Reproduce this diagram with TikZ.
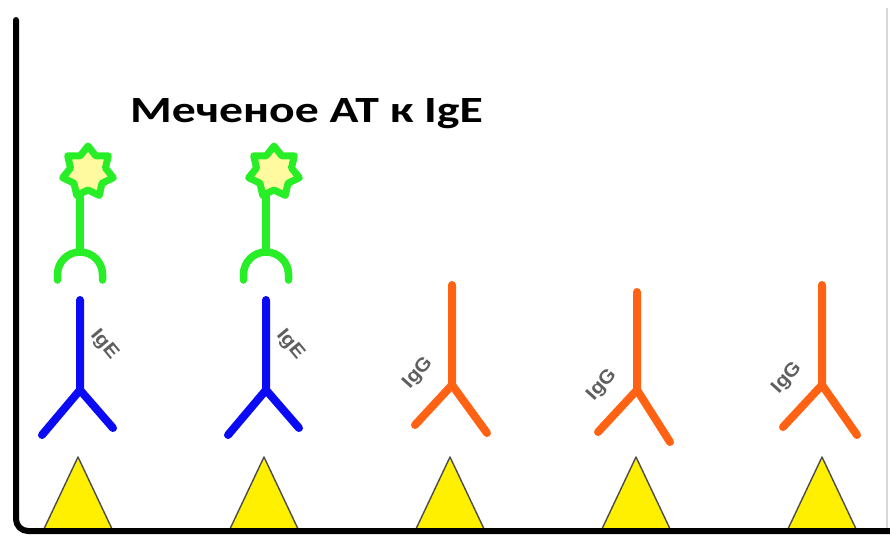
\documentclass[tikz,border=0pt]{standalone}
\usepackage{fontspec}
\usetikzlibrary{shapes.geometric}
\newfontfamily\titlefont{Carlito}
\newfontfamily\labelfont{Liberation Sans}
\definecolor{abgreen}{RGB}{40,238,40}
\definecolor{starfill}{RGB}{255,250,160}
\definecolor{igeblue}{RGB}{10,10,245}
\definecolor{iggorange}{RGB}{255,98,18}
\definecolor{labelgray}{RGB}{95,95,95}
\definecolor{antigen}{RGB}{255,240,0}
\tikzset{
  wall/.style={line width=6pt, line cap=round, line join=round, black},
  antigenbox/.style={fill=antigen, draw=black!70, line width=1.4pt, line join=round},
  igestroke/.style={igeblue, line width=8pt, line cap=round, line join=round},
  iggstroke/.style={iggorange, line width=8pt, line cap=round, line join=round},
  labeledab/.style={abgreen, line width=7.5pt, line cap=round, line join=round},
  tagstar/.style={star, star points=7, star point ratio=1.45, minimum size=52pt,
    inner sep=0pt, draw=abgreen, line width=7pt, fill=starfill, line join=round},
  ablabel/.style={font=\labelfont\bfseries\fontsize{19}{19}\selectfont, text=labelgray, inner sep=0pt},
}
\begin{document}
\begin{tikzpicture}[x=1pt, y=-1pt]
\useasboundingbox (0,0) rectangle (890,538);
\fill[white] (0,0) rectangle (890,538);

% faint right edge of the well
\draw[black!15, line width=1.2pt] (887,8) -- (887,528);

% antigen triangles on the surface
\foreach \cx [count=\i] in {78,264,450,636,822}
  \draw[antigenbox] (\cx-35,531) -- (\cx,457) -- (\cx+35,531) -- cycle;

% well wall and bottom (y axis points down, so angles run clockwise)
\coordinate (walltop) at (16,20);
\coordinate (wallend) at (890,531);
\draw[wall] (walltop) -- (16,519) arc[start angle=180, end angle=90, radius=12] -- (wallend);

% IgE antibodies (blue) with labelled anti-IgE antibodies (green)
\foreach \cx [count=\i] in {80,266}{
  \draw[igestroke] (\cx,300) -- (\cx,390) -- (\cx-38,435);
  \draw[igestroke] (\cx,390) -- (\cx+33,428);
  \node[ablabel, rotate=-50] (ige\i) at (\cx+24,345) {\scalebox{1.1}[1]{IgE}};
  \draw[labeledab] (\cx,190) -- (\cx,252);
  \node[tagstar] (tag\i) at (\cx+8,172) {};
  \draw[labeledab] (\cx-22.5,280) -- (\cx-22.5,274.5)
     arc[start angle=180, end angle=360, radius=22.5] -- (\cx+22.5,280);
}

% IgG antibodies (orange)
\draw[iggstroke] (452,285) -- (452,385) -- (415,425);
\draw[iggstroke] (452,385) -- (487,433);
\node[ablabel, rotate=48] (igg1) at (418,373) {\scalebox{1.1}[1]{IgG}};

\draw[iggstroke] (637,292) -- (637,390) -- (598,432);
\draw[iggstroke] (637,390) -- (670,442);
\node[ablabel, rotate=48] (igg2) at (602,385) {\scalebox{1.1}[1]{IgG}};

\draw[iggstroke] (822,285) -- (822,385) -- (783,427);
\draw[iggstroke] (822,385) -- (857,435);
\node[ablabel, rotate=48] (igg3) at (787,378) {\scalebox{1.1}[1]{IgG}};

% caption
\node[anchor=base west, inner sep=0pt, font=\titlefont\bfseries\fontsize{37}{37}\selectfont]
  (title) at (130,122) {\scalebox{1.29}[1]{Меченое АТ к IgE}};
\end{tikzpicture}
\end{document}
